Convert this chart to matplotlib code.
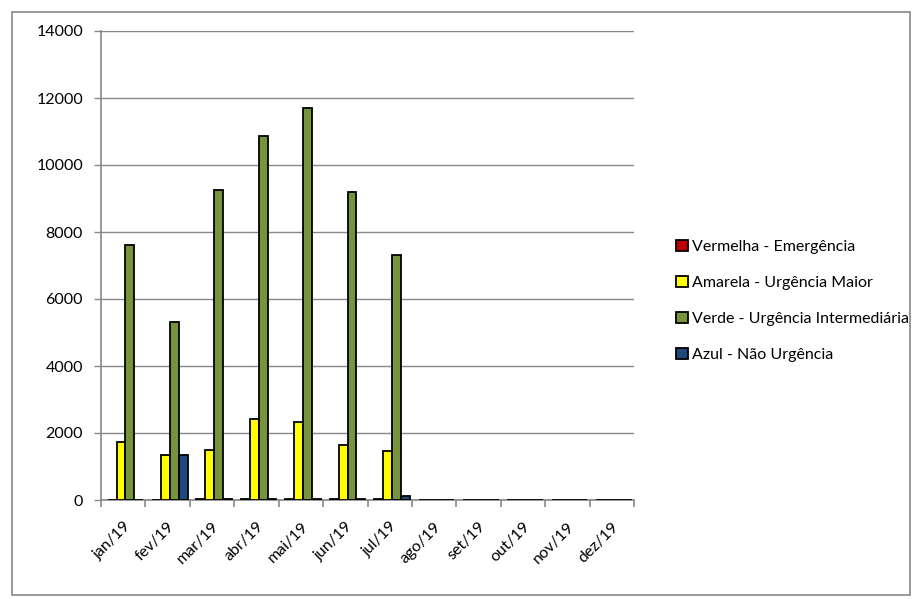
import matplotlib
matplotlib.use("Agg")
import matplotlib.pyplot as plt
import numpy as np
from matplotlib.patches import Rectangle

plt.rcParams['font.family'] = ['Lato', 'DejaVu Sans']

months = ["jan/19", "fev/19", "mar/19", "abr/19", "mai/19", "jun/19",
          "jul/19", "ago/19", "set/19", "out/19", "nov/19", "dez/19"]
series_names = ["Vermelha - Emergência", "Amarela - Urgência Maior",
                "Verde - Urgência Intermediária", "Azul - Não Urgência"]
vermelha = [10, 10, 15, 20, 20, 15, 25, 0, 0, 0, 0, 0]
amarela = [1730, 1350, 1480, 2430, 2330, 1650, 1470, 0, 0, 0, 0, 0]
verde = [7600, 5300, 9250, 10870, 11700, 9180, 7300, 0, 0, 0, 0, 0]
azul = [10, 1350, 15, 20, 30, 25, 130, 0, 0, 0, 0, 0]
yticks = [0, 2000, 4000, 6000, 8000, 10000, 12000, 14000]

colors = ["#C00000", "#FFFF00", "#77933C", "#1F497D"]
data = [vermelha, amarela, verde, azul]

fig = plt.figure(figsize=(9.19, 5.99), dpi=100)
fig.patches.append(Rectangle((12/919, 1-595/599), (910-12)/919, (595-12)/599,
                             transform=fig.transFigure, fill=False,
                             edgecolor="#888888", linewidth=1.2))
ax = fig.add_axes([101/919, 1-500/599, (634-101)/919, (500-31)/599])

x = np.arange(len(months))
w = 0.2
offsets = [-1.5, -0.5, 0.5, 1.5]
for vals, c, off, name in zip(data, colors, offsets, series_names):
    ax.bar(x + off*w + 0.05, vals, width=w, color=c, edgecolor="black",
           linewidth=1.3, label=name, zorder=3)

fs = 11.5
ax.set_xlim(-0.5, 11.5)
ax.set_ylim(0, 14000)
ax.set_yticks(yticks)
ax.set_yticklabels([str(v) for v in yticks], fontsize=fs)
ax.yaxis.grid(True, color="#888888", linewidth=1.0, zorder=0)
ax.set_xticks(x)
ax.set_xticklabels(months, rotation=45, ha="right", rotation_mode="anchor", fontsize=fs)
ax.set_xticks(np.arange(-0.5, 12, 1), minor=True)
ax.tick_params(axis='x', which='major', length=0, pad=14)
ax.tick_params(axis='x', which='minor', length=5, color="#888888", width=1.2)
ax.tick_params(axis='y', length=5, color="#888888", width=1.0, pad=8)
for s in ["top", "right"]:
    ax.spines[s].set_visible(False)
for s in ["left", "bottom"]:
    ax.spines[s].set_color("#888888")
    ax.spines[s].set_linewidth(1.2)

handles, labels = ax.get_legend_handles_labels()
leg = fig.legend(handles, labels, loc="center left", bbox_to_anchor=(662/919, 1-301/599),
                 frameon=False, fontsize=fs, handlelength=0.7, handleheight=0.7,
                 handletextpad=0.25, labelspacing=1.35)

fig.savefig("out.png", dpi=100)
